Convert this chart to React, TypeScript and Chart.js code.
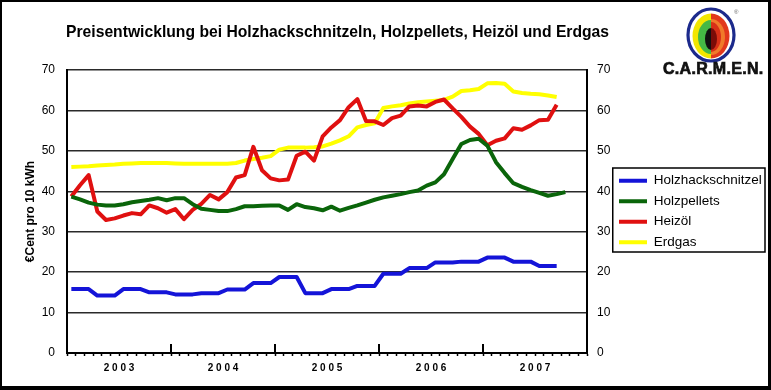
import React, { useEffect, useRef } from "react";
import { Chart, registerables } from "chart.js";

Chart.register(...registerables);

const years = ["2003", "2004", "2005", "2006", "2007"];
const months = ["Jan", "Feb", "Mär", "Apr", "Mai", "Jun", "Jul", "Aug", "Sep", "Okt", "Nov", "Dez"];
const categories = years.flatMap((y) => months.map((m) => `${m} ${y}`));

const yTicks = [0, 10, 20, 30, 40, 50, 60, 70];

const holzhackschnitzel = [
  15.8, 15.8, 15.8, 14.2, 14.2, 14.2, 15.8, 15.8, 15.8, 15.0, 15.0, 15.0,
  14.5, 14.5, 14.5, 14.8, 14.8, 14.8, 15.7, 15.7, 15.7, 17.3, 17.3, 17.3,
  18.8, 18.8, 18.8, 14.8, 14.8, 14.8, 15.8, 15.8, 15.8, 16.6, 16.6, 16.6,
  19.6, 19.6, 19.6, 21.0, 21.0, 21.0, 22.4, 22.4, 22.4, 22.6, 22.6, 22.6,
  23.6, 23.6, 23.6, 22.6, 22.6, 22.6, 21.5, 21.5, 21.5,
];

const holzpellets = [
  38.7, 38.0, 37.2, 36.7, 36.5, 36.5, 36.8, 37.3, 37.6, 37.9, 38.3, 37.8,
  38.3, 38.3, 36.8, 35.7, 35.4, 35.1, 35.1, 35.6, 36.3, 36.3, 36.4, 36.5,
  36.5, 35.4, 36.8, 36.1, 35.8, 35.3, 36.2, 35.2, 35.9, 36.5, 37.2, 37.9,
  38.5, 38.9, 39.3, 39.8, 40.2, 41.4, 42.2, 44.2, 48.0, 51.7, 52.7, 53.0,
  51.3, 47.2, 44.5, 42.0, 41.1, 40.3, 39.6, 38.9, 39.3, 39.8,
];

const heizoel = [
  38.7, 41.5, 44.0, 35.0, 32.9, 33.3, 34.0, 34.6, 34.3, 36.5, 35.8, 34.7,
  35.6, 33.1, 35.4, 36.9, 39.1, 38.0, 39.8, 43.4, 44.0, 51.0, 45.2, 43.2,
  42.7, 42.9, 48.8, 49.8, 47.6, 53.6, 55.8, 57.6, 60.8, 62.8, 57.4, 57.3,
  56.4, 58.1, 58.7, 61.0, 61.2, 61.0, 62.1, 62.7, 60.5, 58.4, 56.0, 54.2,
  51.4, 52.5, 53.1, 55.6, 55.2, 56.3, 57.6, 57.7, 61.4,
];

const erdgas = [
  46.0, 46.1, 46.2, 46.4, 46.5, 46.6, 46.8, 46.9, 47.0, 47.0, 47.0, 47.0,
  46.9, 46.8, 46.8, 46.8, 46.8, 46.8, 46.8, 47.0, 47.6, 48.0, 48.3, 48.7,
  50.3, 50.8, 50.8, 50.8, 50.9, 51.1, 51.8, 52.6, 53.6, 55.8, 56.4, 56.8,
  60.6, 61.0, 61.3, 61.7, 62.0, 62.2, 62.4, 62.6, 63.4, 64.8, 65.0, 65.3,
  66.7, 66.8, 66.6, 64.7, 64.3, 64.1, 64.0, 63.7, 63.3,
];

const seriesNames = ["Holzhackschnitzel", "Holzpellets", "Heizöl", "Erdgas"];
const seriesColors = ["#1414d8", "#0a650a", "#e01010", "#ffff00"];

const FONT = "'Liberation Sans', Arial, sans-serif";

const yearTicksPlugin = {
  id: "yearTicks",
  afterDatasetsDraw(chart: any) {
    const x = chart.scales.x;
    const { ctx } = chart;
    const bottom = chart.chartArea.bottom;
    ctx.save();
    ctx.strokeStyle = "#000";
    ctx.lineWidth = 2;
    for (let i = 12; i < categories.length; i += 12) {
      const px = Math.round((x.getPixelForValue(i - 1) + x.getPixelForValue(i)) / 2);
      ctx.beginPath();
      ctx.moveTo(px, bottom);
      ctx.lineTo(px, bottom - 9);
      ctx.stroke();
    }
    ctx.restore();
  },
};

const legendFramePlugin = {
  id: "legendFrame",
  afterDraw(chart: any) {
    const lg = chart.legend;
    if (!lg || !lg.legendHitBoxes || !lg.legendHitBoxes.length) return;
    const hb = lg.legendHitBoxes;
    const first = hb[0];
    const last = hb[hb.length - 1];
    const left = lg.left + 0.75;
    const right = lg.left + 153;
    const top = first.top - 6;
    const bottom = last.top + last.height + 3;
    const { ctx } = chart;
    ctx.save();
    ctx.strokeStyle = "#000";
    ctx.lineWidth = 1.5;
    ctx.strokeRect(left, top, right - left, bottom - top);
    ctx.restore();
  },
};

function Logo() {
  return (
    <svg
      width={54}
      height={60}
      viewBox="0 0 54 60"
      style={{ position: "absolute", left: 683, top: 3 }}
    >
      <defs>
        <clipPath id="lh">
          <rect x={0} y={0} width={26} height={60} />
        </clipPath>
        <clipPath id="rh">
          <rect x={26} y={0} width={28} height={60} />
        </clipPath>
      </defs>
      <ellipse cx={26} cy={30} rx={23} ry={26} fill="#fff" stroke="#1c2a8c" strokeWidth={3.2} />
      <g clipPath="url(#lh)">
        <ellipse cx={26} cy={31} rx={18.5} ry={22.5} fill="#f2e600" />
        <ellipse cx={26} cy={32} rx={13} ry={17} fill="#45b845" />
        <ellipse cx={26} cy={34} rx={6} ry={11} fill="#111" />
      </g>
      <g clipPath="url(#rh)">
        <ellipse cx={26} cy={31} rx={18.5} ry={22.5} fill="#e2381c" />
        <ellipse cx={26} cy={32} rx={14} ry={18} fill="#f07a2a" />
        <ellipse cx={26} cy={32} rx={10} ry={15} fill="#d83018" />
        <ellipse cx={26} cy={34} rx={6} ry={11} fill="#7a0c08" />
      </g>
      <text x={49} y={9} fontSize={6} fill="#666" fontFamily={FONT}>®</text>
    </svg>
  );
}

export default function App() {
  const ref = useRef<HTMLCanvasElement | null>(null);

  useEffect(() => {
    if (!ref.current) return;
    const data = [holzhackschnitzel, holzpellets, heizoel, erdgas];
    const chart = new Chart(ref.current, {
      type: "line",
      data: {
        labels: categories,
        datasets: data.map((d, i) => ({
          label: seriesNames[i],
          data: d,
          borderColor: seriesColors[i],
          backgroundColor: seriesColors[i],
          borderWidth: 4,
          pointRadius: 0,
          tension: 0,
          fill: false,
          borderJoinStyle: "round" as const,
          yAxisID: "y",
        })),
      },
      options: {
        responsive: false,
        animation: false,
        layout: { padding: { top: 68, left: 0, right: 0, bottom: 0 } },
        plugins: {
          title: { display: false },
          tooltip: { enabled: false },
          legend: {
            position: "right",
            align: "center",
            fullSize: false,
            maxWidth: 156,
            labels: {
              usePointStyle: true,
              pointStyle: "line",
              pointStyleWidth: 28,
              padding: 7,
              color: "#000",
              font: { family: FONT, size: 13.5 },
            },
          },
        },
        scales: {
          x: {
            type: "category",
            offset: true,
            afterFit: (s: any) => {
              s.height = 33;
            },
            grid: {
              display: true,
              offset: true,
              drawOnChartArea: false,
              drawTicks: true,
              tickLength: 3,
              tickWidth: 1.5,
              tickColor: "#000",
            },
            border: { display: true, color: "#000", width: 2 },
            ticks: {
              autoSkip: false,
              maxRotation: 0,
              minRotation: 0,
              padding: 6,
              labelOffset: -4.33,
              color: "#000",
              font: { family: FONT, size: 10, weight: "bold" },
              callback: (_v: any, idx: number) =>
                idx % 12 === 6 ? years[Math.floor(idx / 12)].split("").join(" ") : "",
            },
          },
          y: {
            type: "linear",
            position: "left",
            min: yTicks[0],
            max: yTicks[yTicks.length - 1],
            afterFit: (s: any) => {
              s.width = 65;
            },
            afterBuildTicks: (s: any) => {
              s.ticks = yTicks.map((v) => ({ value: v }));
            },
            grid: { color: "#2a2a2a", lineWidth: 1.5, drawTicks: false },
            border: { display: true, color: "#000", width: 2 },
            ticks: {
              padding: 12,
              color: "#000",
              font: { family: FONT, size: 12 },
            },
            title: {
              display: true,
              text: "€Cent pro 10 kWh",
              color: "#000",
              padding: { top: 21, bottom: 0 },
              font: { family: FONT, size: 12, weight: "bold" },
            },
          },
          y2: {
            type: "linear",
            position: "right",
            min: yTicks[0],
            max: yTicks[yTicks.length - 1],
            afterFit: (s: any) => {
              s.width = 25;
            },
            afterBuildTicks: (s: any) => {
              s.ticks = yTicks.map((v) => ({ value: v }));
            },
            grid: { drawOnChartArea: false, drawTicks: false },
            border: { display: true, color: "#000", width: 2 },
            ticks: {
              padding: 10,
              color: "#000",
              font: { family: FONT, size: 12 },
            },
          },
        },
      },
      plugins: [yearTicksPlugin, legendFramePlugin],
    } as any);
    return () => chart.destroy();
  }, []);

  return (
    <div
      style={{
        position: "absolute",
        left: 0,
        top: 0,
        width: 771,
        height: 390,
        boxSizing: "border-box",
        borderStyle: "solid",
        borderColor: "#000",
        borderWidth: "2px 3px 4px 2px",
        background: "#fff",
        overflow: "hidden",
      }}
    >
      <canvas
        ref={ref}
        width={766}
        height={384}
        style={{ position: "absolute", left: 0, top: 0, display: "block" }}
      />
      <div
        style={{
          position: "absolute",
          left: 64,
          top: 21,
          fontFamily: FONT,
          fontWeight: "bold",
          fontSize: 15.7,
          lineHeight: "18px",
          color: "#000",
          whiteSpace: "nowrap",
        }}
      >
        Preisentwicklung bei Holzhackschnitzeln, Holzpellets, Heizöl und Erdgas
      </div>
      <Logo />
      <div
        style={{
          position: "absolute",
          left: 661,
          top: 57,
          fontFamily: FONT,
          fontWeight: "bold",
          fontSize: 16,
          lineHeight: "19px",
          color: "#111",
          whiteSpace: "nowrap",
          letterSpacing: "0.3px",
          WebkitTextStroke: "0.7px #111",
        }}
      >
        C.A.R.M.E.N.
      </div>
    </div>
  );
}
